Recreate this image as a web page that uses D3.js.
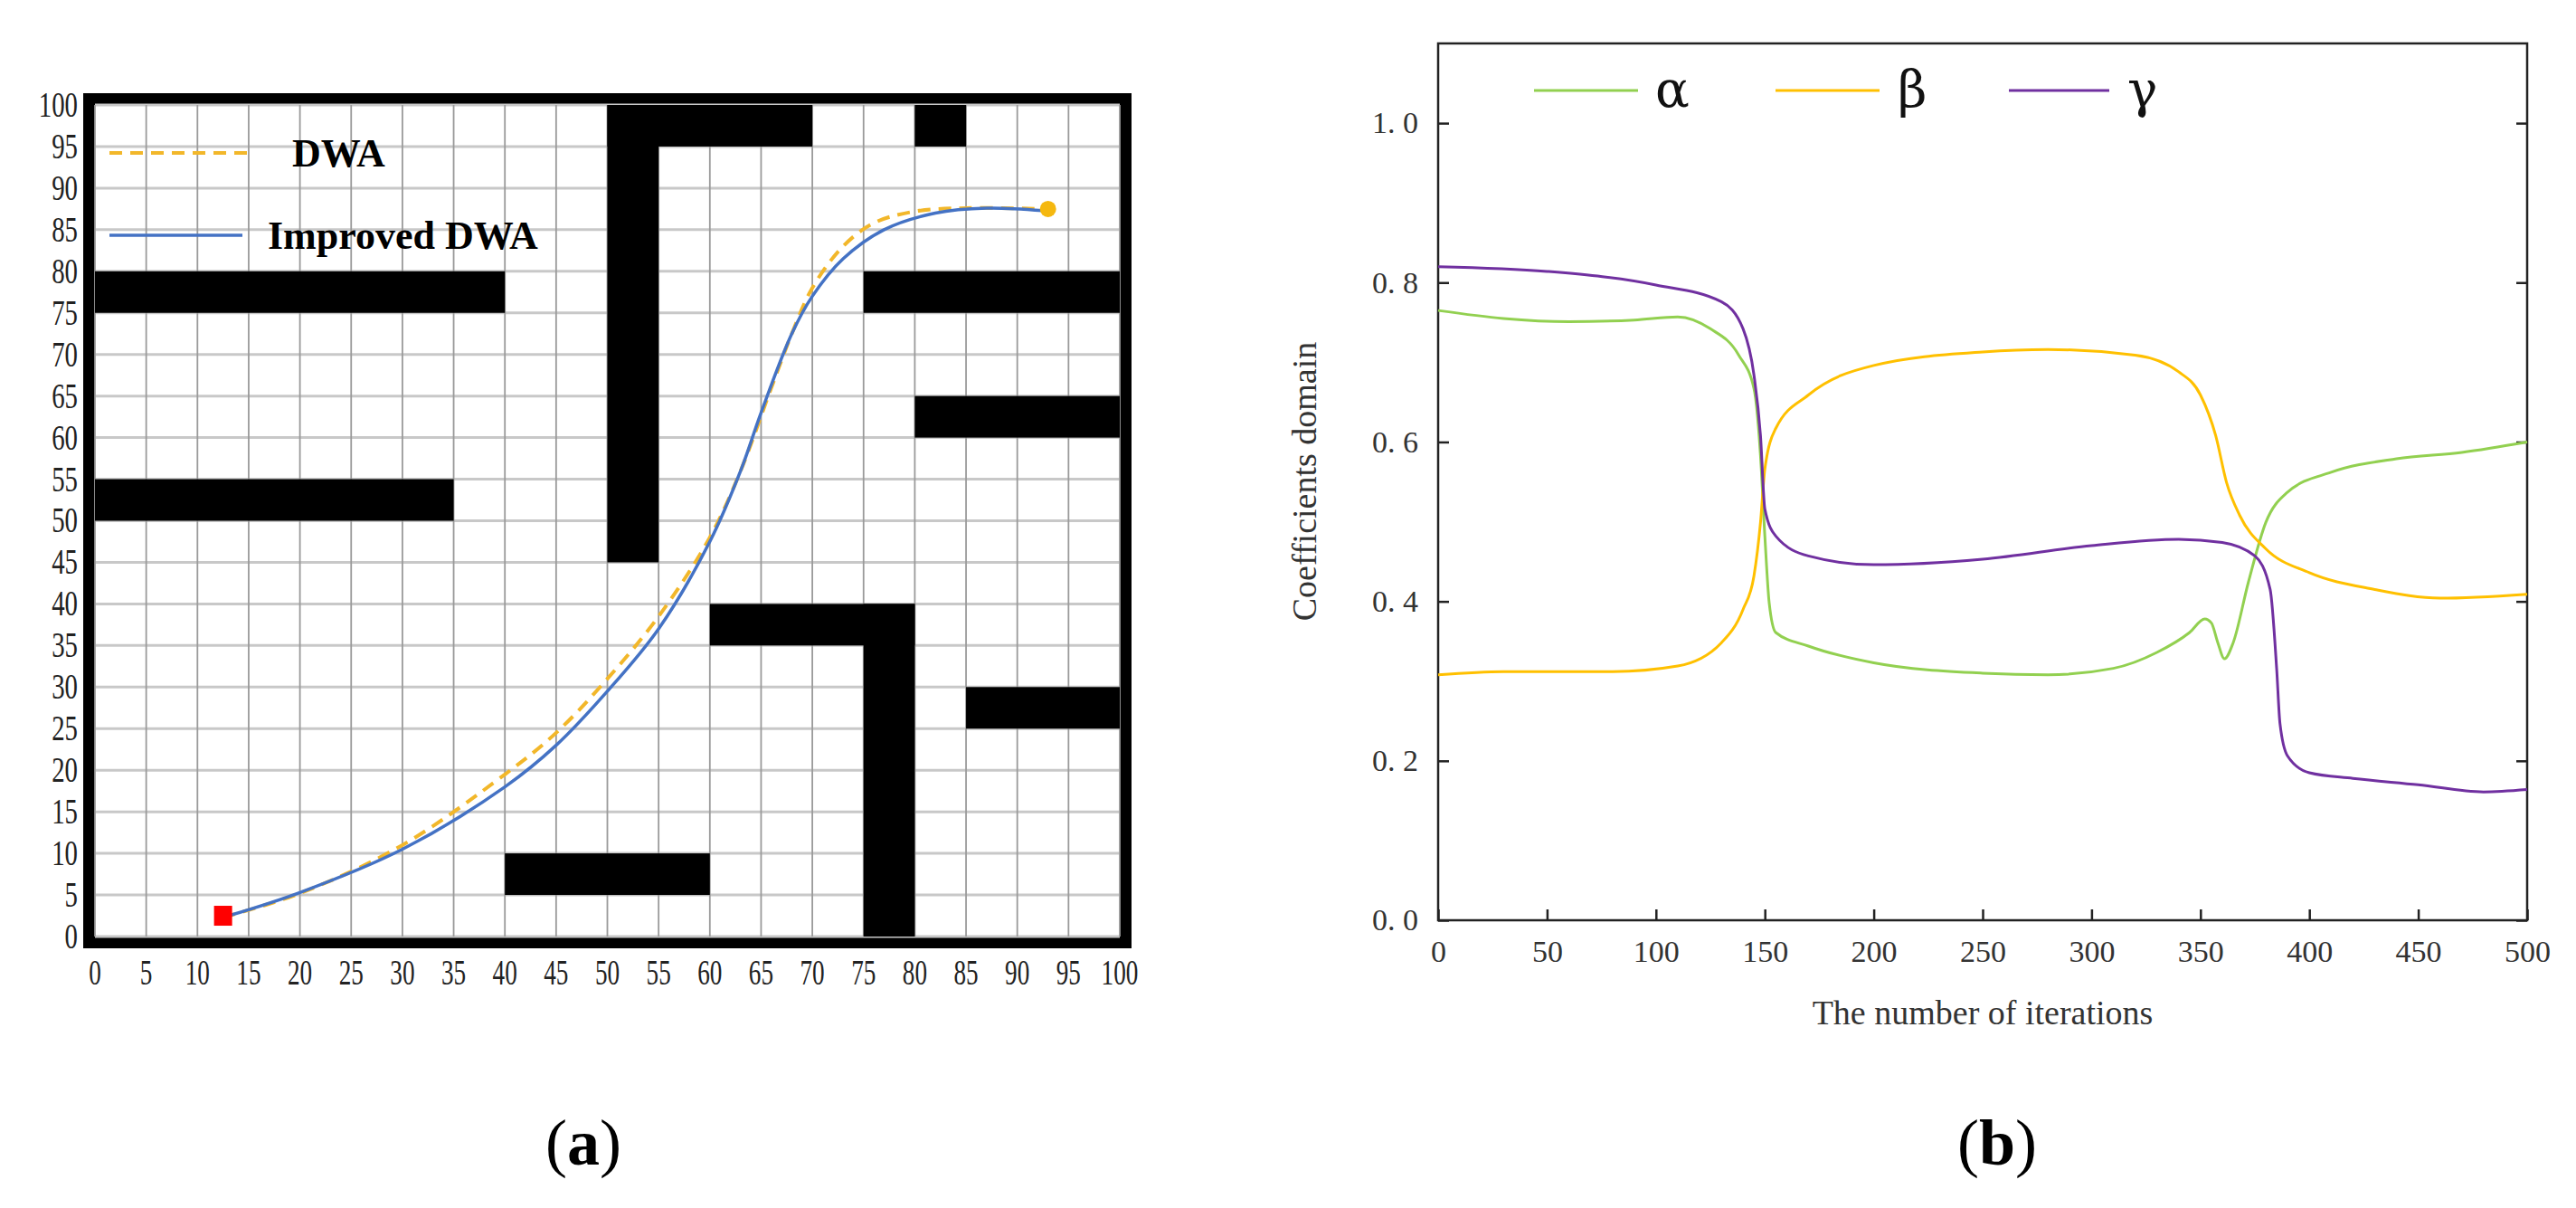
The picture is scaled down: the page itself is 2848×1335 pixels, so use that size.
<!DOCTYPE html>
<html><head><meta charset="utf-8">
<script src="https://cdn.jsdelivr.net/npm/d3@7"></script>
<style>body{margin:0;background:#fff}svg{display:block}</style>
</head><body>
<svg id="c" width="2848" height="1335"></svg>
<script>
// ---------- Panel (a) data ----------
const gridTicks = d3.range(0, 101, 5);
const obstacles = [
  [0,40,75,80],[0,35,50,55],[50,55,45,100],[50,70,95,100],[80,85,95,100],
  [75,100,75,80],[80,100,60,65],[60,80,35,40],[75,80,0,40],[85,100,25,30],[40,60,5,10]
];
const dwaPath = [[12.5,2.3],[20,5.2],[30,11],[40,19.5],[45,24.5],[50,31],[55,38.5],[60,48],[63,56],[66,66],[68,72.5],[70,78],[73,83],[76,85.8],[80,87.2],[85,87.6],[92.5,87.5]];
const improvedPath = [[12.5,2.3],[20,5.3],[30,10.5],[40,18],[45,23],[50,29.5],[55,37],[60,47.5],[63,56],[65,63],[68,72.5],[70,77],[73,81.5],[77,85],[82,87],[87,87.6],[92.5,87.3]];
const startPt = [12.5, 2.5];
const goalPt = [93, 87.5];

// ---------- Panel (b) data ----------
const alphaSeries = [[0,0.765],[30,0.755],[60,0.751],[90,0.753],[110,0.757],[125,0.742],[138,0.709],[145,0.667],[148,0.583],[150,0.482],[152,0.398],[155,0.361],[170,0.344],[200,0.323],[250,0.310],[280,0.308],[310,0.316],[330,0.336],[345,0.361],[352,0.378],[355,0.373],[358,0.348],[361,0.328],[365,0.348],[372,0.424],[380,0.499],[390,0.537],[410,0.562],[440,0.579],[470,0.587],[500,0.600]];
const betaSeries = [[0,0.308],[30,0.312],[80,0.312],[110,0.319],[130,0.348],[140,0.390],[145,0.432],[148,0.499],[150,0.566],[155,0.617],[170,0.659],[200,0.696],[250,0.713],[280,0.716],[320,0.709],[340,0.688],[350,0.659],[357,0.608],[362,0.549],[368,0.508],[380,0.466],[400,0.436],[430,0.415],[460,0.404],[500,0.409]];
const gammaSeries = [[0,0.820],[50,0.814],[100,0.797],[130,0.776],[140,0.742],[145,0.684],[148,0.608],[150,0.516],[155,0.482],[170,0.457],[200,0.446],[250,0.453],[300,0.470],[340,0.478],[360,0.474],[375,0.457],[382,0.415],[385,0.315],[386.5,0.247],[390,0.206],[400,0.185],[420,0.178],[450,0.170],[480,0.161],[500,0.164]];
const seriesNames = ["α","β","γ"];
const seriesColors = ["#92D050","#FFC000","#7030A0"];
const xTicksB = d3.range(0, 501, 50);
const yTicksB = [0,0.2,0.4,0.6,0.8,1.0];

const svg = d3.select("#c");

// ===== Panel (a) =====
const xa = d3.scaleLinear().domain([0,100]).range([105,1238]);
const ya = d3.scaleLinear().domain([0,100]).range([1035,116]);
const ga = svg.append("g");
ga.append("rect").attr("x",xa(0)-13).attr("y",ya(100)-13).attr("width",xa(100)-xa(0)+26).attr("height",ya(0)-ya(100)+26).attr("fill","#000");
ga.append("rect").attr("x",xa(0)).attr("y",ya(100)).attr("width",xa(100)-xa(0)).attr("height",ya(0)-ya(100)).attr("fill","#fff");
ga.selectAll(".hg").data(gridTicks).join("line").attr("x1",xa(0)).attr("x2",xa(100)).attr("y1",d=>ya(d)).attr("y2",d=>ya(d)).attr("stroke","#c8c8c8").attr("stroke-width",3);
ga.selectAll(".vg").data(gridTicks).join("line").attr("y1",ya(0)).attr("y2",ya(100)).attr("x1",d=>xa(d)).attr("x2",d=>xa(d)).attr("stroke","#9a9a9a").attr("stroke-width",1.8);
ga.selectAll(".ob").data(obstacles).join("rect").attr("x",d=>xa(d[0])).attr("width",d=>xa(d[1])-xa(d[0])).attr("y",d=>ya(d[3])).attr("height",d=>ya(d[2])-ya(d[3])).attr("fill","#000");
ga.selectAll(".xl").data(gridTicks).join("text").attr("x",d=>xa(d)).attr("y",1088).attr("text-anchor","middle")
  .attr("font-family","Liberation Serif").attr("font-size",40).attr("fill","#222").text(d=>d)
  .attr("transform",d=>`translate(${xa(d)},0) scale(0.68,1) translate(${-xa(d)},0)`);
ga.selectAll(".yl").data(gridTicks).join("text").attr("x",86).attr("y",d=>ya(d)+13).attr("text-anchor","end")
  .attr("font-family","Liberation Serif").attr("font-size",40).attr("fill","#222").text(d=>d)
  .attr("transform",`translate(86,0) scale(0.72,1) translate(-86,0)`);
const la = d3.line().x(d=>xa(d[0])).y(d=>ya(d[1])).curve(d3.curveCatmullRom);
ga.append("path").attr("d",la(dwaPath)).attr("fill","none").attr("stroke","#F2B72A").attr("stroke-width",4).attr("stroke-dasharray","14,9");
ga.append("path").attr("d",la(improvedPath)).attr("fill","none").attr("stroke","#4472C4").attr("stroke-width",3.5);
ga.append("rect").attr("x",xa(startPt[0])-10).attr("y",ya(startPt[1])-11).attr("width",20).attr("height",22).attr("fill","#FF0000");
ga.append("circle").attr("cx",xa(goalPt[0])).attr("cy",ya(goalPt[1])).attr("r",9).attr("fill","#F5B80F");
ga.append("line").attr("x1",121).attr("x2",275).attr("y1",169).attr("y2",169).attr("stroke","#F2B72A").attr("stroke-width",4).attr("stroke-dasharray","14,9");
ga.append("text").attr("x",323).attr("y",184).attr("font-family","Liberation Serif").attr("font-weight","bold").attr("font-size",44).text("DWA");
ga.append("line").attr("x1",121).attr("x2",268).attr("y1",260).attr("y2",260).attr("stroke","#4472C4").attr("stroke-width",3.5);
ga.append("text").attr("x",296).attr("y",275).attr("font-family","Liberation Serif").attr("font-weight","bold").attr("font-size",44).text("Improved DWA");
svg.append("text").attr("x",645).attr("y",1287).attr("text-anchor","middle").attr("font-family","Liberation Serif").attr("font-size",72).html('(<tspan font-weight="bold">a</tspan>)');

// ===== Panel (b) =====
const xb = d3.scaleLinear().domain([0,500]).range([1590,2794]);
const yb = d3.scaleLinear().domain([0,1.1]).range([1017,48]);
const gb = svg.append("g");
const fmt = d=>d3.format(".1f")(d).replace(".", ". ");
gb.append("g").attr("transform","translate(0,1017)").call(d3.axisBottom(xb).tickValues(xTicksB).tickSizeInner(-12).tickSizeOuter(0).tickPadding(22))
  .call(g=>{g.select(".domain").remove();g.selectAll("text").attr("font-family","Liberation Serif").attr("font-size",34).attr("fill","#333");g.selectAll("line").attr("stroke","#222").attr("stroke-width",2.5);});
gb.append("g").attr("transform","translate(1590,0)").call(d3.axisLeft(yb).tickValues(yTicksB).tickFormat(fmt).tickSizeInner(-12).tickSizeOuter(0).tickPadding(22))
  .call(g=>{g.select(".domain").remove();g.selectAll("text").attr("font-family","Liberation Serif").attr("font-size",34).attr("fill","#333");g.selectAll("line").attr("stroke","#222").attr("stroke-width",2.5);});
gb.append("g").attr("transform","translate(2794,0)").call(d3.axisRight(yb).tickValues(yTicksB).tickFormat("").tickSizeInner(-12).tickSizeOuter(0))
  .call(g=>{g.select(".domain").remove();g.selectAll("line").attr("stroke","#222").attr("stroke-width",2.5);});
gb.append("rect").attr("x",1590).attr("y",48).attr("width",1204).attr("height",969).attr("fill","none").attr("stroke","#222").attr("stroke-width",2.5);
const lb = d3.line().x(d=>xb(d[0])).y(d=>yb(d[1])).curve(d3.curveMonotoneX);
[alphaSeries,betaSeries,gammaSeries].forEach((s,i)=>{
  gb.append("path").attr("d",lb(s)).attr("fill","none").attr("stroke",seriesColors[i]).attr("stroke-width",3);
});
const legX = [[1696,1811,1830],[1963,2078,2098],[2221,2332,2352]];
seriesNames.forEach((n,i)=>{
  gb.append("line").attr("x1",legX[i][0]).attr("x2",legX[i][1]).attr("y1",100).attr("y2",100).attr("stroke",seriesColors[i]).attr("stroke-width",3);
  gb.append("text").attr("x",legX[i][2]).attr("y",118).attr("font-family","DejaVu Serif").attr("font-size",56).attr("fill","#111").text(n);
});
gb.append("text").attr("x",2192).attr("y",1132).attr("text-anchor","middle").attr("font-family","Liberation Serif").attr("font-size",38).attr("fill","#333").text("The number of iterations");
gb.append("text").attr("transform","translate(1455,532) rotate(-90)").attr("text-anchor","middle").attr("font-family","Liberation Serif").attr("font-size",38).attr("fill","#333").text("Coefficients domain");
svg.append("text").attr("x",2208).attr("y",1287).attr("text-anchor","middle").attr("font-family","Liberation Serif").attr("font-size",72).html('(<tspan font-weight="bold">b</tspan>)');
</script>
</body></html>
